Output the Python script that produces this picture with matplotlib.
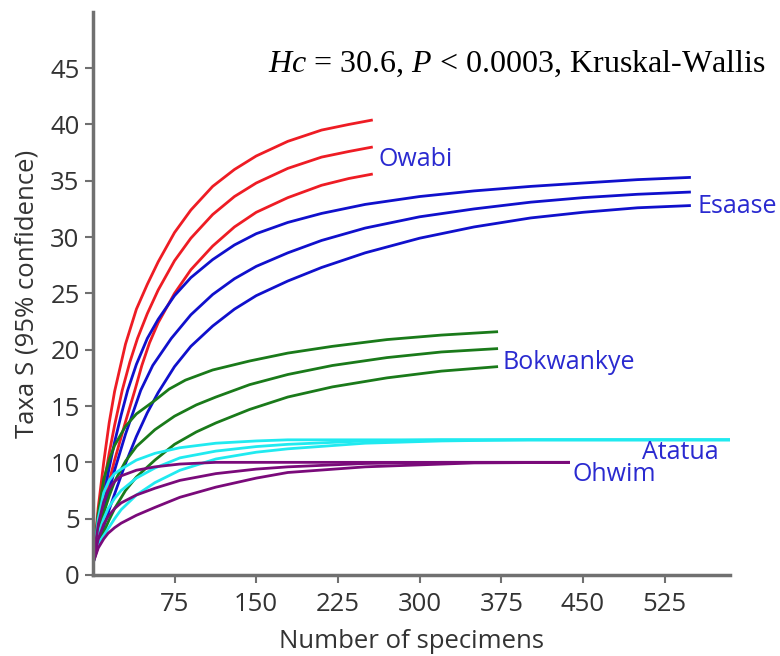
import matplotlib.pyplot as plt

# Rarefaction curves (specimens, taxa)
owabi_x = [[0, 5, 10, 15, 20, 30, 40, 50, 60, 75, 90, 110, 130, 150, 179, 210, 235, 257],
           [0, 5, 10, 15, 20, 27, 34, 41, 50, 60, 75, 90, 110, 130, 150, 179, 210, 235, 257],
           [0, 5, 10, 15, 20, 30, 38.6, 45, 52, 60, 75, 90, 110, 130, 150, 179, 210, 235, 257]]
owabi_y = [[1, 6, 10, 13.5, 16.3, 20.5, 23.6, 25.8, 27.8, 30.4, 32.4, 34.5, 36, 37.2, 38.5, 39.5, 40, 40.4],
           [1, 5, 8, 10.8, 13.3, 16.4, 18.9, 21, 23.2, 25.3, 27.9, 29.9, 32, 33.6, 34.8, 36.1, 37.1, 37.6, 38.0],
           [1, 4, 6.2, 8.3, 10.2, 13.6, 16.4, 18.6, 20.6, 22.4, 25, 27.1, 29.2, 30.9, 32.2, 33.5, 34.6, 35.2, 35.6]]

esaase_x = [[0, 5, 10, 15, 20, 26, 32, 40, 50, 60, 75, 90, 110, 130, 150, 179, 210, 250, 300, 350, 402, 450, 500, 549],
            [0, 5, 10, 15, 20, 30, 44, 55, 72, 90, 110, 130, 150, 179, 210, 250, 300, 350, 402, 450, 500, 549],
            [0, 5, 10, 15, 20, 30, 40, 50, 60, 75, 90, 110, 130, 150, 179, 210, 250, 300, 350, 402, 450, 500, 549]]
esaase_y = [[1, 4.5, 7, 9.5, 11.8, 14.2, 16.4, 18.7, 21, 22.7, 24.8, 26.4, 28, 29.3, 30.3, 31.3, 32.1, 32.9, 33.6, 34.1, 34.5, 34.8, 35.1, 35.3],
            [1, 3.5, 5.5, 7.5, 9.3, 12.5, 16.4, 18.6, 21, 23.1, 24.9, 26.3, 27.4, 28.6, 29.7, 30.8, 31.8, 32.5, 33.1, 33.5, 33.8, 34.0],
            [1, 2.8, 4.3, 5.8, 7.2, 9.9, 12.3, 14.4, 16.2, 18.5, 20.3, 22.1, 23.6, 24.8, 26.1, 27.3, 28.6, 29.9, 30.9, 31.7, 32.2, 32.6, 32.8]]

bokwankye_x = [[0, 5, 10, 15, 20, 30, 40, 57, 70, 85, 110, 144, 179, 220, 270, 320, 372],
               [0, 5, 10, 15, 20, 30, 40, 57, 75, 95, 113, 144, 179, 220, 270, 320, 372],
               [0, 5, 10, 15, 20, 30, 40, 57, 75, 95, 113, 144, 179, 220, 270, 320, 372]]
bokwankye_y = [[1, 5.5, 8.5, 10.2, 11.5, 13.2, 14.3, 15.5, 16.5, 17.3, 18.2, 19.0, 19.7, 20.3, 20.9, 21.3, 21.6],
               [1, 3.5, 5.5, 7, 8.3, 10.1, 11.4, 12.9, 14.1, 15.1, 15.8, 16.9, 17.8, 18.6, 19.3, 19.8, 20.1],
               [1, 2.6, 3.8, 4.9, 5.9, 7.5, 8.7, 10.2, 11.6, 12.7, 13.5, 14.7, 15.8, 16.7, 17.5, 18.1, 18.5]]

atatua_x = [[0, 5, 10, 15, 20, 26, 40, 57, 80, 113, 150, 179, 585],
            [0, 5, 10, 14, 20, 26, 40, 57, 80, 113, 150, 179, 250, 320, 585],
            [0, 5, 10, 14, 20, 26, 40, 57, 80, 113, 150, 179, 250, 320, 400, 585]]
atatua_y = [[1, 5, 7.3, 8.4, 9, 9.4, 10.2, 10.8, 11.3, 11.7, 11.9, 12.0, 12.0],
            [1, 3.6, 5, 5.9, 6.8, 7.5, 8.6, 9.5, 10.4, 11.0, 11.4, 11.6, 11.9, 12.0, 12.0],
            [1, 2.8, 3.5, 4.1, 5, 5.8, 7.1, 8.2, 9.3, 10.3, 10.9, 11.2, 11.7, 11.9, 12.0, 12.0]]

ohwim_x = [[0, 5, 10, 14, 20, 26, 40, 57, 80, 113, 438],
           [0, 5, 10, 14, 20, 26, 40, 57, 80, 113, 150, 179, 250, 320, 438],
           [0, 5, 10, 14, 20, 26, 40, 57, 80, 113, 150, 179, 250, 350, 438]]
ohwim_y = [[1, 4.5, 6.5, 7.5, 8.3, 8.8, 9.3, 9.6, 9.85, 10.0, 10.0],
           [1, 3.2, 4.5, 5.2, 5.9, 6.4, 7.1, 7.7, 8.4, 9.0, 9.4, 9.6, 9.9, 10.0, 10.0],
           [1, 2.4, 3.2, 3.7, 4.2, 4.6, 5.3, 6.0, 6.9, 7.8, 8.6, 9.1, 9.6, 9.95, 10.0]]

groups = [("Owabi", owabi_x, owabi_y, "#ee1c24"),
          ("Esaase", esaase_x, esaase_y, "#1010cc"),
          ("Bokwankye", bokwankye_x, bokwankye_y, "#1a7a1a"),
          ("Atatua", atatua_x, atatua_y, "#20eaf0"),
          ("Ohwim", ohwim_x, ohwim_y, "#7a0a7a")]

# label anchor points (data coords)
label_pos = {"Owabi": (262, 36.9), "Esaase": (555, 32.7),
             "Bokwankye": (376, 18.9), "Atatua": (504, 10.9),
             "Ohwim": (440, 8.9)}

plt.rcParams['font.family'] = ['Open Sans', 'DejaVu Sans']
plt.rcParams['mathtext.fontset'] = 'custom'
plt.rcParams['mathtext.rm'] = 'Liberation Serif'
plt.rcParams['mathtext.it'] = 'Liberation Serif:italic'

fig = plt.figure(figsize=(7.8, 6.56), dpi=100)
ax = fig.add_axes([0.119, 0.1235, 0.817, 0.8585])

for name, xs, ys, col in groups:
    for x, y in zip(xs, ys):
        ax.plot(x, y, color=col, lw=2.0, solid_capstyle="butt")
    lx, ly = label_pos[name]
    ax.text(lx, ly, name, color="#2a2ad0", fontsize=18, va="center",
            ha="left", clip_on=False)

ax.set_xlim(0, 585)
ax.set_ylim(0, 50)
ax.set_xticks([75, 150, 225, 300, 375, 450, 525])
ax.set_yticks([0, 5, 10, 15, 20, 25, 30, 35, 40, 45])

for s in ["top", "right"]:
    ax.spines[s].set_visible(False)
for s in ["left", "bottom"]:
    ax.spines[s].set_color("#707070")
    ax.spines[s].set_linewidth(2.5)
ax.tick_params(colors="#707070", width=1.5, length=6, labelsize=18.5,
               labelcolor="#333333")
ax.tick_params(axis="x", pad=6)

ax.set_xlabel("Number of specimens", fontsize=18.5, color="#333333", labelpad=9)
ax.set_ylabel("Taxa S (95% confidence)", fontsize=18.5, color="#333333", labelpad=8)

fig.text(0.981, 0.903, r"$Hc$ = 30.6, $P$ < 0.0003, Kruskal-Wallis",
         fontsize=23, family="Liberation Serif", ha="right", va="center")

fig.savefig("out.png", dpi=100)
